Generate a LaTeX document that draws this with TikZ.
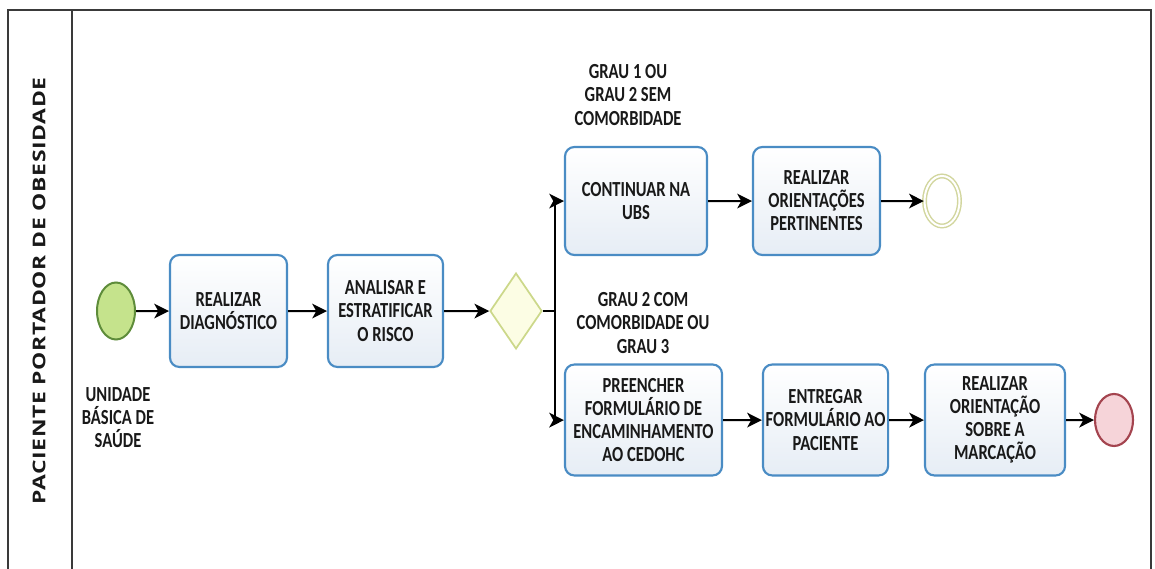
\documentclass[tikz,border=0pt]{standalone}
\usepackage{fontspec}
\setmainfont{Carlito}
\newfontfamily\lanefont[LetterSpace=3]{Open Sans}
\usepackage{xcolor}
\definecolor{taskBorder}{HTML}{4A8CC4}
\definecolor{taskFill}{HTML}{E6EDF5}
\definecolor{startFill}{HTML}{C5E38C}
\definecolor{startBorder}{HTML}{5E8C3A}
\definecolor{gateFill}{HTML}{FCFDE4}
\definecolor{gateBorder}{HTML}{CCD88A}
\definecolor{endFill}{HTML}{F6D4D9}
\definecolor{endBorder}{HTML}{A4444F}
\definecolor{midBorder}{HTML}{D2D69E}
\definecolor{frameGray}{HTML}{3A3A3A}
\usetikzlibrary{shapes.geometric, arrows.meta, positioning}
\tikzset{
    task/.style={
        draw=taskBorder,
        line width=1.6pt,
        rectangle,
        rounded corners=7pt,
        top color=white,
        bottom color=taskFill,
        align=center,
        inner sep=2pt,
        font=\fontsize{12.4}{13.3}\selectfont\bfseries,
        text=black!90
    },
    cond/.style={
        align=center,
        font=\fontsize{12.4}{13.3}\selectfont\bfseries,
        text=black!90
    },
    flow/.style={
        -{Stealth[length=11pt, width=11pt, inset=3pt]},
        line width=1.5pt
    }
}

\begin{document}
\begin{tikzpicture}[
    x=0.75pt, y=-0.5769pt, yscale=1.3, transform shape,
    start_style/.style={ellipse, draw=startBorder, fill=startFill, line width=1.5pt, inner sep=0pt},
    end_style/.style={ellipse, draw=endBorder, fill=endFill, line width=1.6pt, inner sep=0pt},
    mid_style/.style={ellipse, draw=midBorder, double=white, double distance=1.5pt, line width=1.1pt, inner sep=0pt},
    gate_style/.style={diamond, draw=gateBorder, fill=gateFill, line width=1.3pt, inner sep=0pt},
]
\clip (0,0) rectangle (1155,569);

% ====== POOL FRAME ======
\draw[frameGray, line width=1.5pt] (8,600) -- (8,10) -- (1151,10) -- (1151,600);
\draw[frameGray, line width=1.2pt] (72,10) -- (72,600);
\node[rotate=90, text=black!90, font={\lanefont\fontsize{13.2pt}{15pt}\selectfont\bfseries}] (lane_title) at (39,291) {PACIENTE PORTADOR DE OBESIDADE};

% ====== MAIN ROW ======
\node[start_style, minimum width=28.5pt, minimum height=32.9pt] (start_ev) at (116,311) {};
\node[cond] (start_lbl) at (118,418) {UNIDADE\\BÁSICA DE\\SAÚDE};
\node[task, minimum width=87.75pt, minimum height=64.6pt] (task_diag) at (228.5,311) {REALIZAR\\DIAGNÓSTICO};
\node[task, minimum width=86.25pt, minimum height=64.6pt] (task_risco) at (385.5,311) {ANALISAR E\\ESTRATIFICAR\\O RISCO};
\node[gate_style, minimum width=39pt, minimum height=43.9pt] (gw_risco) at (516,311) {};

% ====== UPPER BRANCH ======
\node[cond] (cond_up) at (628,95) {GRAU 1 OU\\GRAU 2 SEM\\COMORBIDADE};
\node[task, minimum width=106.5pt, minimum height=62.3pt] (task_ubs) at (636,201) {CONTINUAR NA\\UBS};
\node[task, minimum width=95.25pt, minimum height=62.3pt] (task_orient) at (816.5,201) {REALIZAR\\ORIENTAÇÕES\\PERTINENTES};
\node[mid_style, minimum width=26.25pt, minimum height=28.9pt] (end_top) at (942,201) {};

% ====== LOWER BRANCH ======
\node[cond] (cond_down) at (643,323) {GRAU 2 COM\\COMORBIDADE OU\\GRAU 3};
\node[task, minimum width=117.75pt, minimum height=64pt] (task_preench) at (643.5,420) {PREENCHER\\FORMULÁRIO DE\\ENCAMINHAMENTO\\AO CEDOHC};
\node[task, minimum width=93.75pt, minimum height=64pt] (task_entregar) at (825.5,420) {ENTREGAR\\FORMULÁRIO AO\\PACIENTE};
\node[task, minimum width=105pt, minimum height=64pt] (task_marc) at (995,420) {REALIZAR\\ORIENTAÇÃO\\SOBRE A\\MARCAÇÃO};
\node[end_style, minimum width=28.5pt, minimum height=30pt] (end_red) at (1114,420) {};

% --- arrows ---
\draw[flow] (start_ev) -- (task_diag);
\draw[flow] (task_diag) -- (task_risco);
\draw[flow] (task_risco) -- (gw_risco);
\draw[flow] (gw_risco.east) -- ++(12,0) |- (task_ubs);
\draw[flow] (gw_risco.east) -- ++(12,0) |- (task_preench);
\draw[flow] (task_ubs) -- (task_orient);
\draw[flow] (task_orient) -- (end_top);
\draw[flow] (task_preench) -- (task_entregar);
\draw[flow] (task_entregar) -- (task_marc);
\draw[flow] (task_marc) -- (end_red);

\end{tikzpicture}
\end{document}
